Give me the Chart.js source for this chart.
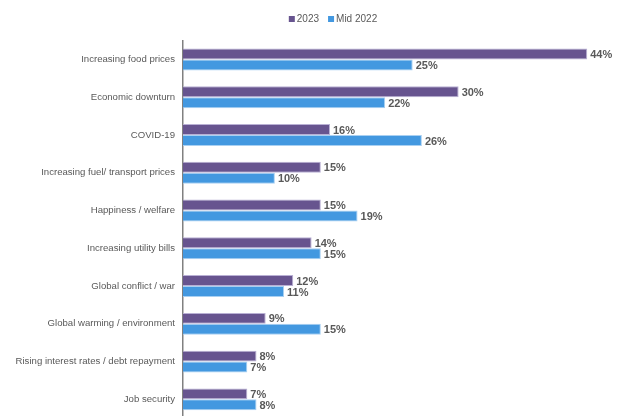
<!DOCTYPE html>
<html>
<head>
<meta charset="utf-8">
<script src="https://cdn.jsdelivr.net/npm/chart.js@4"></script>
<style>
    html, body { margin: 0; padding: 0; background: #fff; overflow: hidden; }
    #wrap { width: 624px; height: 432px; position: relative; }
</style>
</head>
<body>
<div id="wrap"><canvas id="bars"></canvas></div>
<script>
const categories = [
    'Increasing food prices',
    'Economic downturn',
    'COVID-19',
    'Increasing fuel/ transport prices',
    'Happiness / welfare',
    'Increasing utility bills',
    'Global conflict / war',
    'Global warming / environment',
    'Rising interest rates / debt repayment',
    'Job security'
];
const values2023 = [44, 30, 16, 15, 15, 14, 12, 9, 8, 7];
const valuesMid2022 = [25, 22, 26, 10, 19, 15, 11, 15, 7, 8];

const FONT = '"Liberation Sans", Arial, sans-serif';

// percentage labels at the end of each bar
const barLabels = {
    id: 'barLabels',
    afterDatasetsDraw(chart) {
        const c = chart.ctx;
        c.save();
        c.font = 'bold 11px ' + FONT;
        c.fillStyle = '#595959';
        c.textAlign = 'left';
        c.textBaseline = 'middle';
        chart.data.datasets.forEach(function (ds, i) {
            chart.getDatasetMeta(i).data.forEach(function (bar, j) {
                c.fillText(ds.data[j] + '%', bar.x + 3, bar.y + 1);
            });
        });
        c.restore();
    }
};

// small square legend centred above the plot
const topLegend = {
    id: 'topLegend',
    afterDraw(chart) {
        const c = chart.ctx;
        const box = 6, gap = 2, spacing = 9;
        c.save();
        c.font = '10px ' + FONT;
        c.textBaseline = 'middle';
        c.textAlign = 'left';
        const items = chart.data.datasets.map(function (ds) {
            return { text: ds.label, color: ds.backgroundColor, w: box + gap + c.measureText(ds.label).width };
        });
        let total = 0;
        items.forEach(function (it, i) { total += it.w + (i ? spacing : 0); });
        let x = chart.width / 2 + 21 - total / 2;
        const y = 19;
        items.forEach(function (it) {
            c.fillStyle = it.color;
            c.fillRect(x, y - box / 2, box, box);
            c.fillStyle = '#595959';
            c.fillText(it.text, x + box + gap, y);
            x += it.w + spacing;
        });
        c.restore();
    }
};

const ctx = document.getElementById('bars');

new Chart(ctx, {
    type: 'bar',
    data: {
        labels: categories,
        datasets: [{
            label: '2023',
            data: values2023,
            backgroundColor: '#67548f',
            borderColor: '#b9b0d4',
            borderWidth: 1,
            categoryPercentage: 0.58,
            barPercentage: 1
        }, {
            label: 'Mid 2022',
            data: valuesMid2022,
            backgroundColor: '#4398e0',
            borderColor: '#a9d0f2',
            borderWidth: 1,
            categoryPercentage: 0.58,
            barPercentage: 1
        }]
    },
    options: {
        indexAxis: 'y',
        responsive: true,
        maintainAspectRatio: false,
        animation: false,
        layout: { padding: { left: 0, right: 0, top: 40.6, bottom: 0 } },
        scales: {
            x: {
                display: false,
                min: 0,
                max: 48
            },
            y: {
                grid: { display: false, drawTicks: false },
                border: { display: true, color: '#808080', width: 1.5 },
                ticks: {
                    color: '#595959',
                    padding: 8,
                    font: { family: FONT, size: 9.6 }
                },
                afterFit: function (scale) {
                    scale.width = 183;
                }
            }
        },
        plugins: {
            legend: { display: false },
            tooltip: { enabled: false }
        }
    },
    plugins: [barLabels, topLegend]
});
</script>
</body>
</html>
